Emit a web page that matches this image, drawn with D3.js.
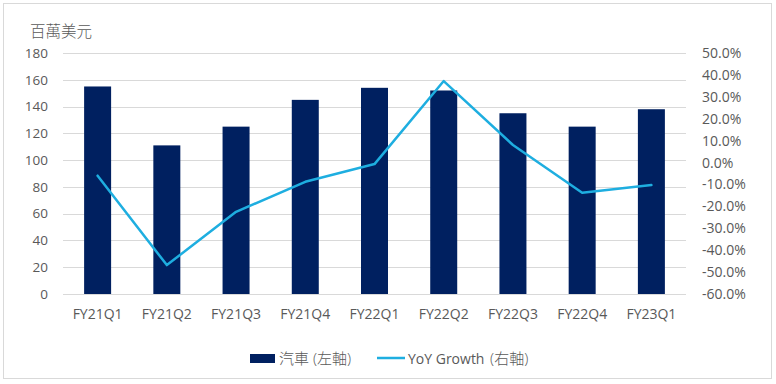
<!DOCTYPE html>
<html lang="zh-Hant">
<head>
<meta charset="UTF-8">
<title>汽車營收</title>
<script src="https://cdn.jsdelivr.net/npm/d3@7"></script>
<style>
  body { margin: 0; background: #fff; }
  text { font-family: "Open Sans", "Noto Sans CJK TC", sans-serif; fill: #595959; }
</style>
</head>
<body>
<script>
// data
const quarters = ["FY21Q1","FY21Q2","FY21Q3","FY21Q4","FY22Q1","FY22Q2","FY22Q3","FY22Q4","FY23Q1"]
const autoRevenue = [155, 111, 125, 145, 154, 152, 135, 125, 138]   // 百萬美元
const yoyGrowth = [-6.0, -46.8, -22.5, -8.8, -0.7, 37.2, 8.0, -13.8, -10.3] // %
const leftTicks = [0, 20, 40, 60, 80, 100, 120, 140, 160, 180]
const rightTicks = [-60, -50, -40, -30, -20, -10, 0, 10, 20, 30, 40, 50]

const width = 776, height = 384
const plotLeft = 63, plotRight = 686, plotTop = 53, plotBottom = 294
const barColor = "#002060", lineColor = "#1eaee0"

const svg = d3.select("body").append("svg")
  .attr("width", width)
  .attr("height", height)

// outer frame
svg.append("rect")
  .attr("x", 3.5).attr("y", 3.5)
  .attr("width", 768).attr("height", 375)
  .attr("fill", "#fff")
  .attr("stroke", "#d9d9d9")

const x = d3.scaleBand()
  .domain(quarters)
  .range([plotLeft, plotRight])
  .paddingInner(0.61)
  .paddingOuter(0.305)

const y = d3.scaleLinear().domain([0, 180]).range([plotBottom, plotTop])
const y2 = d3.scaleLinear().domain([-60, 50]).range([plotBottom, plotTop])

// gridlines
svg.append("g")
  .selectAll("line")
  .data(leftTicks)
  .enter().append("line")
  .attr("x1", plotLeft).attr("x2", plotRight)
  .attr("y1", d => Math.round(y(d)) + 0.5)
  .attr("y2", d => Math.round(y(d)) + 0.5)
  .attr("stroke", "#d9d9d9")

// left axis labels
const yAxis = d3.axisLeft(y).tickValues(leftTicks).tickSize(0).tickPadding(15)
svg.append("g")
  .attr("transform", `translate(${plotLeft},0)`)
  .call(yAxis)
  .call(g => g.select(".domain").remove())
  .selectAll("text")
  .attr("font-size", 13.5)
  .attr("font-family", null)

// right axis labels
const yAxis2 = d3.axisRight(y2).tickValues(rightTicks).tickSize(0).tickPadding(16)
  .tickFormat(d => d.toFixed(1) + "%")
svg.append("g")
  .attr("transform", `translate(${plotRight},0)`)
  .call(yAxis2)
  .call(g => g.select(".domain").remove())
  .selectAll("text")
  .attr("font-size", 14)
  .attr("font-family", null)

// x axis labels
const xAxis = d3.axisBottom(x).tickSize(0).tickPadding(15)
svg.append("g")
  .attr("transform", `translate(0,${plotBottom})`)
  .call(xAxis)
  .call(g => g.select(".domain").remove())
  .selectAll("text")
  .attr("font-size", 14)
  .attr("font-family", null)

// unit label
svg.append("text")
  .attr("x", 30).attr("y", 37)
  .attr("font-size", 15.5)
  .attr("font-weight", 300)
  .text("百萬美元")

// bars
svg.append("g")
  .selectAll("rect")
  .data(autoRevenue)
  .enter().append("rect")
  .attr("x", (d, i) => x(quarters[i]))
  .attr("width", x.bandwidth())
  .attr("y", d => y(d))
  .attr("height", d => y(0) - y(d))
  .attr("fill", barColor)

// yoy line
const lineF = d3.line()
  .x((d, i) => x(quarters[i]) + x.bandwidth() / 2)
  .y(d => y2(d))
svg.append("path")
  .datum(yoyGrowth)
  .attr("d", lineF)
  .attr("fill", "none")
  .attr("stroke", lineColor)
  .attr("stroke-width", 2.5)
  .attr("stroke-linejoin", "round")
  .attr("stroke-linecap", "round")

// legend
const legend = svg.append("g")
legend.append("rect")
  .attr("x", 250).attr("y", 354)
  .attr("width", 25).attr("height", 9)
  .attr("fill", barColor)
legend.append("text")
  .attr("x", 279).attr("y", 364)
  .attr("font-size", 15)
  .attr("font-weight", 300)
  .text("汽車 (左軸)")
legend.append("line")
  .attr("x1", 377).attr("x2", 405)
  .attr("y1", 358).attr("y2", 358)
  .attr("stroke", lineColor)
  .attr("stroke-width", 2.5)
const t2 = legend.append("text")
  .attr("x", 408).attr("y", 364)
  .attr("font-size", 14)
t2.append("tspan").text("YoY Growth ")
t2.append("tspan").attr("font-size", 15).attr("font-weight", 300).attr("dx", 2).text("(右軸)")
</script>
</body>
</html>
